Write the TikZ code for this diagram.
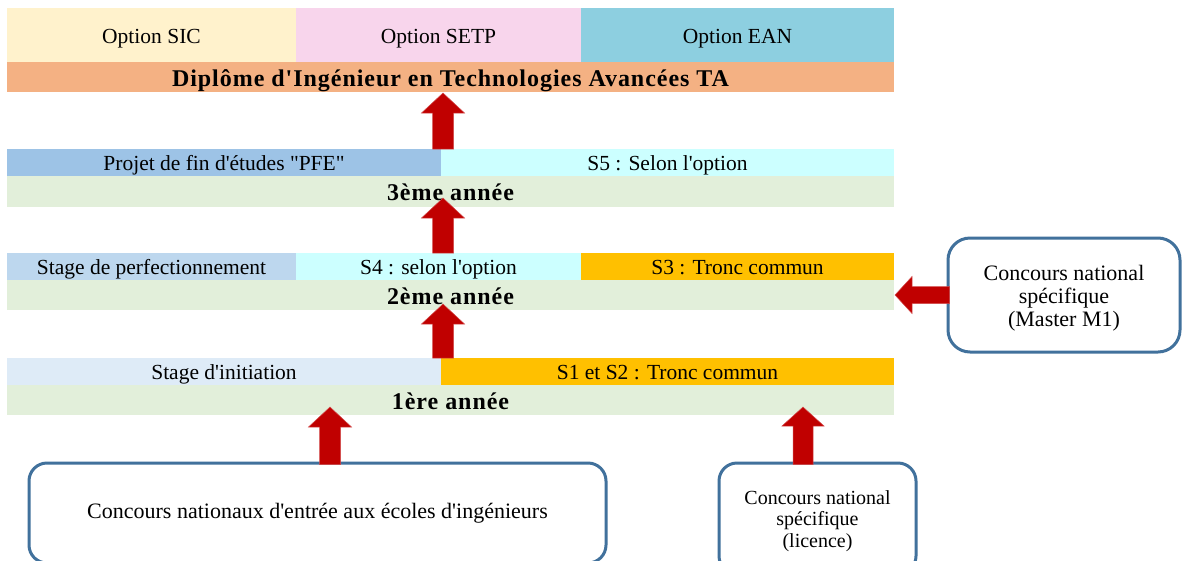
\documentclass[tikz,border=0pt]{standalone}
\usepackage{fontspec}
\setmainfont{Liberation Serif}[Ligatures=TeXOff]
\newfontfamily\yearfont{Liberation Serif}[Ligatures=TeXOff,LetterSpace=4]
\usetikzlibrary{calc}
\definecolor{sicc}{HTML}{FFF2CC}
\definecolor{setpc}{HTML}{F8D5EC}
\definecolor{eanc}{HTML}{8DCFE0}
\definecolor{dipc}{HTML}{F4B183}
\definecolor{pfec}{HTML}{9DC3E6}
\definecolor{optc}{HTML}{CCFFFF}
\definecolor{yearc}{HTML}{E2EFDA}
\definecolor{perfc}{HTML}{BDD7EE}
\definecolor{tronc}{HTML}{FFC000}
\definecolor{initc}{HTML}{DEEBF7}
\definecolor{arrowred}{HTML}{C00000}
\definecolor{boxblue}{HTML}{41719C}
\tikzset{
  cell/.style={anchor=north west, inner sep=0pt, outer sep=0pt,
    text height=19pt, text depth=2.5pt,
    font=\fontsize{21.5}{25}\selectfont},
  boldcell/.style={cell, text height=22pt, text depth=3.6pt,
    font=\yearfont\bfseries\fontsize{24}{28}\selectfont},
  yearbar/.style={boldcell, fill=yearc, minimum width=887pt, minimum height=30pt},
  roundbox/.style={draw=boxblue, line width=3pt, fill=white, align=center,
    inner sep=0pt, outer sep=0pt},
  blk/.style={fill=arrowred, draw=arrowred!70!white, line width=0.5pt}
}
% vertical block arrow: base, tip, half shaft, half head, head length
\newcommand\blkup[5]{\path[blk] let \p1=#1, \p2=#2 in
  (\x1-#3,\y1) -- (\x1-#3,\y2-#5) -- (\x1-#4,\y2-#5) -- (\x1,\y2) --
  (\x1+#4,\y2-#5) -- (\x1+#3,\y2-#5) -- (\x1+#3,\y1) -- cycle;}
% leftward block arrow
\newcommand\blkleft[5]{\path[blk] let \p1=#1, \p2=#2 in
  (\x1,\y1+#3) -- (\x2+#5,\y1+#3) -- (\x2+#5,\y1+#4) -- (\x2,\y1) --
  (\x2+#5,\y1-#4) -- (\x2+#5,\y1-#3) -- (\x1,\y1-#3) -- cycle;}
\begin{document}
\begin{tikzpicture}[x=1pt,y=1pt]
\useasboundingbox[fill=white] (0,0) rectangle (1183,-560);
% options
\node[cell, fill=sicc, minimum width=289pt, minimum height=54pt] (sic) at (7,-8) {Option SIC};
\node[cell, fill=setpc, minimum width=285pt, minimum height=54pt] (setp) at (296,-8) {Option SETP};
\node[cell, fill=eanc, minimum width=313pt, minimum height=54pt] (ean) at (581,-8) {Option EAN};
\node[boldcell, fill=dipc, minimum width=887pt, minimum height=30pt] (dip) at (7,-62)
  {Diplôme d'Ingénieur en Technologies Avancées TA};
% 3rd year
\node[cell, fill=pfec, minimum width=434pt, minimum height=27pt] (pfe) at (7,-149) {Projet de fin d'études "PFE"};
\node[cell, fill=optc, minimum width=453pt, minimum height=27pt] (s5) at (441,-149) {S5 : Selon l'option};
\node[yearbar, minimum height=31pt] (y3) at (7,-176) {3ème année};
% 2nd year
\node[cell, fill=perfc, minimum width=289pt, minimum height=27pt] (perf) at (7,-253) {Stage de perfectionnement};
\node[cell, fill=optc, minimum width=285pt, minimum height=27pt] (s4) at (296,-253) {S4 : selon l'option};
\node[cell, fill=tronc, minimum width=313pt, minimum height=27pt] (s3) at (581,-253) {S3 : Tronc commun};
\node[yearbar] (y2) at (7,-280) {2ème année};
% 1st year
\node[cell, fill=initc, minimum width=434pt, minimum height=27pt] (init) at (7,-358) {Stage d'initiation};
\node[cell, fill=tronc, minimum width=453pt, minimum height=27pt] (s12) at (441,-358) {S1 et S2 : Tronc commun};
\node[yearbar] (y1) at (7,-385) {1ère année};
% entry boxes
\node[roundbox, rounded corners=18pt, minimum width=577pt, minimum height=100pt,
  font=\fontsize{22}{24}\selectfont] (lbox) at (317.5,-513)
  {Concours nationaux d'entrée aux écoles d'ingénieurs};
\node[roundbox, rounded corners=18pt, minimum width=197pt, minimum height=111pt,
  font=\fontsize{20}{21.5}\selectfont] (rbox) at (817.5,-518.5)
  {\rule{0pt}{18.7pt}Concours national\\spécifique\\(licence)};
\node[roundbox, rounded corners=22pt, minimum width=232pt, minimum height=114pt,
  font=\fontsize{22}{23}\selectfont] (mbox) at (1064,-295)
  {\rule{0pt}{22pt}Concours national\\spécifique\\(Master M1)};
% arrows
\coordinate (cx) at (443,0);
\coordinate (lx) at (330,0);
\coordinate (rx) at (803,0);
\blkup{(cx |- pfe.north)}{([yshift=-1pt]cx |- dip.south)}{10.5pt}{21.5pt}{20pt}
\blkup{(cx |- perf.north)}{([yshift=9pt]cx |- y3.south)}{10.5pt}{21.5pt}{20pt}
\blkup{(cx |- init.north)}{([yshift=6pt]cx |- y2.south)}{10.5pt}{21.5pt}{20pt}
\blkup{([yshift=-1.5pt]lx |- lbox.north)}{([yshift=8pt]lx |- y1.south)}{10.5pt}{21.5pt}{20pt}
\blkup{([yshift=-1.5pt]rx |- rbox.north)}{([yshift=8pt]rx |- y1.south)}{10pt}{21pt}{19pt}
\blkleft{([xshift=1.5pt]mbox.west)}{([xshift=1pt]y2.east |- mbox.west)}{8.5pt}{18.5pt}{17pt}
\end{tikzpicture}
\end{document}
